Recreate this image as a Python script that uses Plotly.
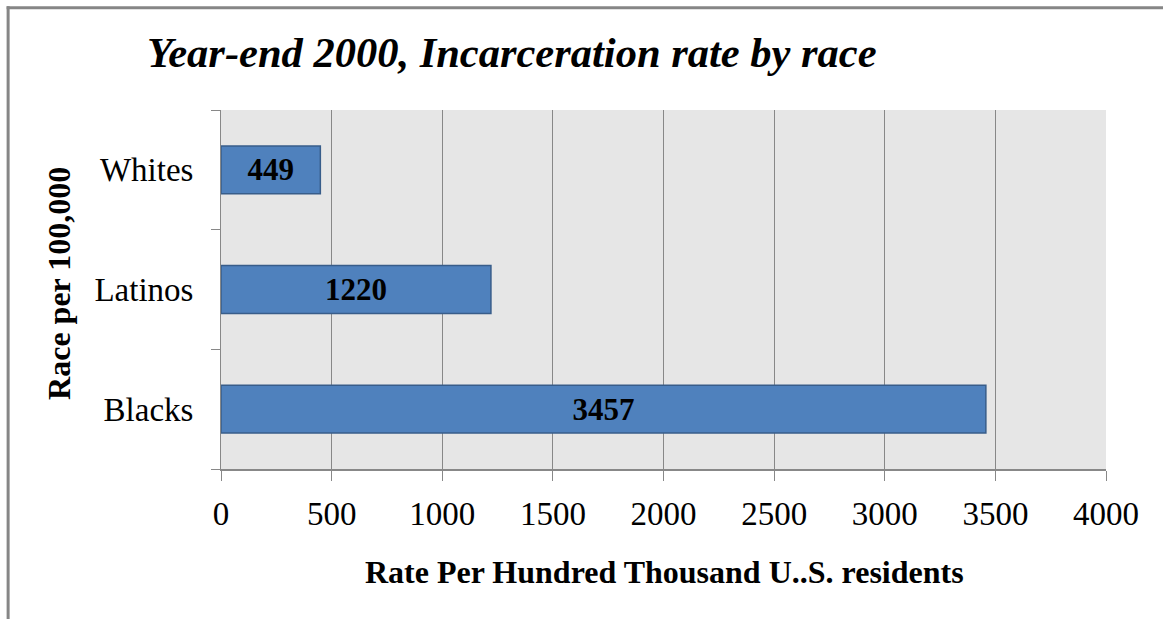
import plotly.graph_objects as go

categories = ["Blacks", "Latinos", "Whites"]
rates = [3457, 1220, 449]
x_ticks = [0, 500, 1000, 1500, 2000, 2500, 3000, 3500, 4000]

W, H = 1163, 619
L, R, T, B = 220.5, 1106, 109.7, 468.7

def px_x(p):
    return (p - L) / (R - L)

def px_y(p):
    return (B - p) / (B - T)

FONT = "Liberation Serif, Times New Roman, serif"

fig = go.Figure()
fig.add_trace(go.Bar(
    x=rates, y=categories, orientation="h", width=0.4,
    marker=dict(color="#4F81BD", line=dict(color="#385D8A", width=1.5)),
    text=[str(v) for v in rates], textposition="inside",
    insidetextanchor="middle", constraintext="none",
    textfont=dict(family=FONT, size=31, color="black", weight="bold"),
    cliponaxis=False, hoverinfo="skip",
))

fig.update_layout(
    width=W, height=H,
    margin=dict(l=L, r=W - R, t=T, b=H - B, pad=0),
    paper_bgcolor="white", plot_bgcolor="#E6E6E6",
    showlegend=False,
    font=dict(family=FONT, size=31, color="black"),
    xaxis=dict(
        range=[0, 4000], tickvals=x_ticks, ticktext=[str(v) for v in x_ticks],
        showgrid=True, gridcolor="#888888", gridwidth=1,
        zeroline=False, showline=True, linecolor="#888888", linewidth=2,
        ticks="outside", ticklen=10, tickcolor="#888888", tickwidth=1,
        tickfont=dict(family=FONT, size=33, color="black"),
        ticklabelstandoff=4,
        fixedrange=True,
    ),
    yaxis=dict(
        type="category", categoryorder="array", categoryarray=categories,
        range=[-0.5, 2.5],
        showgrid=False, zeroline=False, showline=True, linecolor="#888888", linewidth=1,
        ticks="outside", tickson="boundaries", ticklen=9, tickcolor="#888888", tickwidth=1,
        tickfont=dict(family=FONT, size=33, color="black"),
        ticklabelstandoff=20,
        fixedrange=True,
    ),
    annotations=[
        dict(text="<b><i>Year-end 2000, Incarceration rate by race</i></b>",
             xref="paper", yref="paper", x=px_x(512), y=px_y(52),
             xanchor="center", yanchor="middle", showarrow=False,
             font=dict(family=FONT, size=42.5, color="black")),
        dict(text="<b>Rate Per Hundred Thousand U..S. residents</b>",
             xref="paper", yref="paper", x=px_x(664), y=px_y(572),
             xanchor="center", yanchor="middle", showarrow=False,
             font=dict(family=FONT, size=32, color="black")),
        dict(text="<b>Race per 100,000</b>",
             xref="paper", yref="paper", x=px_x(59), y=px_y(283),
             xanchor="center", yanchor="middle", showarrow=False, textangle=-90,
             font=dict(family=FONT, size=32, color="black")),
    ],
    shapes=[
        dict(type="line", xref="paper", yref="paper", x0=px_x(7.5), x1=px_x(7.5),
             y0=px_y(6), y1=px_y(625),
             line=dict(color="#868686", width=3)),
        dict(type="line", xref="paper", yref="paper", x0=px_x(6), x1=px_x(1170),
             y0=px_y(7.5), y1=px_y(7.5),
             line=dict(color="#868686", width=3)),
    ],
)

fig.write_html("out.html", config={"displayModeBar": False})
